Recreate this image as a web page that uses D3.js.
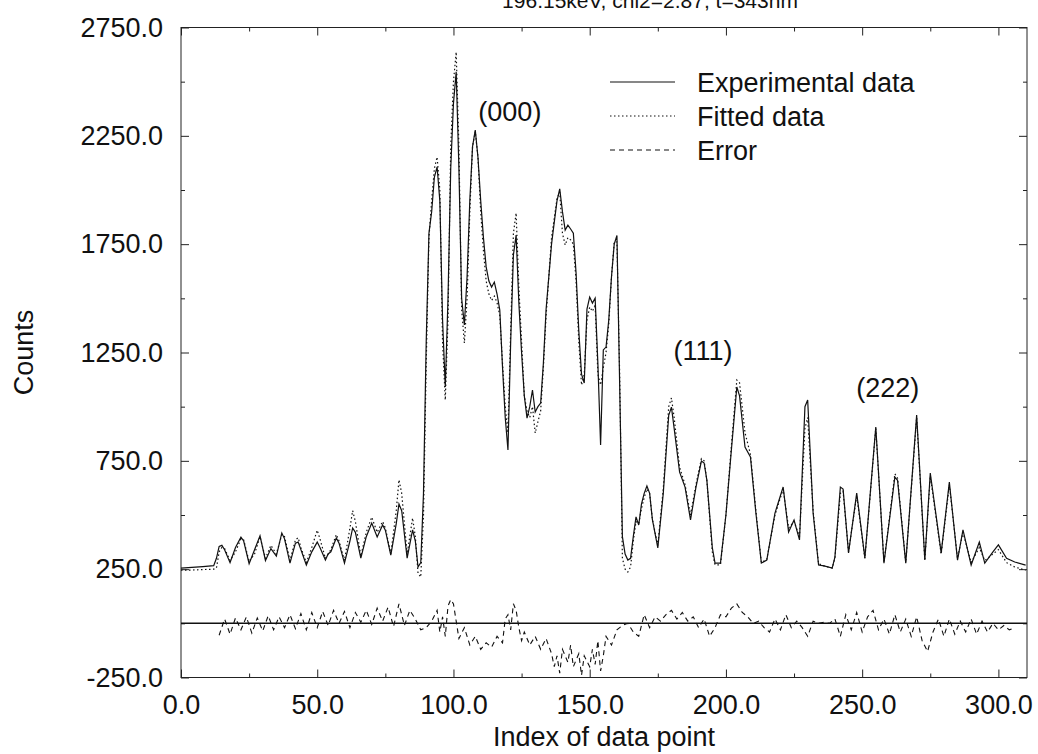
<!DOCTYPE html>
<html>
<head>
<meta charset="utf-8">
<script src="https://cdn.jsdelivr.net/npm/d3@7"></script>
<style>
  body { margin: 0; background: #fff; }
  text { font-family: "Liberation Sans", Arial, Helvetica, sans-serif; fill: #111; }
</style>
</head>
<body>
<div id="chart"></div>
<script>
// data (index of data point -> counts)
const pointIndex = [0, 4, 8, 12, 13, 14, 15, 16, 18, 20, 22, 23, 25, 27, 29, 31, 33, 35, 37, 38, 40, 42, 43, 44, 46, 48, 50, 51, 53, 54, 55, 57, 58, 60, 62, 63, 64, 66, 68, 70, 72, 74, 75, 77, 79, 80, 81, 83, 85, 86, 87, 88,
    89, 90, 91, 92, 93, 94, 95, 96, 97, 98, 99, 100, 101, 102, 103, 104, 105, 106, 107, 108, 109, 110, 111, 112, 113, 114, 115, 116, 117, 118, 119, 120, 121, 122, 123, 124, 125, 126, 127, 128, 129, 130,
    131, 132, 133, 134, 135, 136, 137, 138, 139, 140, 141, 142, 143, 144, 145, 146, 147, 148, 149, 150, 151, 152, 153, 154, 155, 156, 157, 158, 159, 160, 161, 162, 163, 164, 165, 166, 167, 168, 169, 170,
    171, 172, 173, 175, 177, 179, 180, 181, 183, 185, 187, 189, 191, 192, 193, 195, 196, 198, 200, 202, 204, 205, 207, 209, 211, 213, 215, 218, 221, 223, 225, 227, 229, 230, 232, 234, 236, 239, 240, 242,
    243, 245, 248, 251, 255, 258, 262, 263, 266, 270, 273, 275, 279, 282, 285, 287, 290, 293, 295, 298, 300, 303, 306, 310]
const experimental = [255, 258, 262, 266, 300, 355, 360, 340, 280, 350, 398, 380, 275, 340, 404, 290, 345, 310, 417, 390, 278, 370, 375, 340, 269, 330, 375, 350, 292, 320, 330, 394, 370, 278, 380, 440, 420, 301, 400, 463, 399, 454, 430, 315, 460, 551, 520, 301, 431, 380, 260, 280,
    600, 1300, 1800, 1900, 2060, 2106, 1950, 1400, 1091, 1500, 2100, 2400, 2545, 2100, 1500, 1377, 1600, 1950, 2200, 2277, 2150, 1950, 1780, 1645, 1580, 1552, 1575, 1520, 1446, 1183, 950, 800, 1300, 1700, 1792, 1478, 1250, 1050, 947, 1000, 1077, 975,
    1000, 1017, 1200, 1450, 1600, 1750, 1852, 1950, 2005, 1900, 1815, 1838, 1820, 1801, 1617, 1350, 1150, 1109, 1450, 1506, 1478, 1501, 1200, 823, 1262, 1275, 1400, 1600, 1750, 1790, 1100, 400, 320, 292, 300, 400, 491, 454, 550, 600,
    634, 600, 480, 348, 600, 960, 998, 900, 698, 629, 477, 629, 749, 740, 661, 350, 278, 278, 500, 800, 1091, 1050, 814, 768, 509, 278, 292, 509, 629, 421, 477, 385, 1000, 1031, 509, 269, 265, 255, 306, 629,
    620, 325, 601, 302, 906, 278, 675, 660, 278, 961, 292, 694, 325, 652, 292, 431, 269, 375, 278, 330, 362, 300, 283, 269]
const fitted = [245, 246, 248, 250, 255, 330, 350, 345, 290, 330, 390, 385, 285, 320, 400, 300, 360, 320, 410, 400, 290, 385, 395, 350, 280, 350, 430, 390, 300, 320, 340, 410, 380, 290, 440, 520, 470, 310, 420, 490, 420, 470, 440, 320, 520, 662, 600, 320, 486, 400, 230, 214,
    500, 1200, 1780, 1950, 2100, 2152, 2000, 1300, 1031, 1400, 2200, 2500, 2637, 2200, 1450, 1294, 1500, 1900, 2200, 2270, 2150, 1900, 1720, 1580, 1520, 1490, 1510, 1480, 1420, 1200, 1000, 880, 1350, 1800, 1894, 1550, 1300, 1050, 980, 950, 1000, 878,
    930, 980, 1180, 1420, 1600, 1780, 1870, 1960, 1990, 1800, 1746, 1780, 1770, 1750, 1580, 1300, 1100, 1150, 1400, 1460, 1440, 1470, 1150, 1100, 1180, 1250, 1380, 1600, 1760, 1760, 1150, 300, 250, 237, 260, 380, 470, 460, 530, 580,
    620, 600, 480, 360, 620, 1000, 1040, 950, 720, 640, 500, 640, 760, 750, 660, 330, 270, 270, 500, 820, 1123, 1110, 880, 780, 520, 280, 295, 500, 620, 440, 470, 400, 900, 950, 520, 275, 265, 255, 300, 600,
    610, 330, 590, 300, 900, 280, 690, 670, 280, 950, 290, 680, 320, 640, 300, 420, 280, 350, 290, 320, 340, 280, 260, 245]
const errorIndex = [14, 16, 18, 20, 22, 24, 26, 28, 30, 32, 34, 36, 38, 40, 42, 44, 46, 48, 50, 52, 54, 56, 58, 60, 62, 64, 66, 68, 70, 72, 74, 76, 78, 80, 82, 84, 86, 88, 90, 92, 94, 95, 96, 97, 98, 99, 100,
    101, 102, 104, 106, 108, 110, 112, 114, 116, 118, 119, 120, 121, 122, 123, 124, 125, 126, 128, 130, 132, 134, 136, 137, 138, 139, 140, 142, 143, 144, 146, 147, 148, 150, 151, 152, 153, 154, 155, 156, 158,
    160, 162, 164, 166, 168, 170, 172, 174, 176, 178, 180, 182, 184, 186, 188, 190, 192, 194, 196, 198, 200, 202, 204, 206, 208, 210, 212, 214, 216, 218, 220, 222, 224, 226, 228, 230, 232, 234, 236, 238, 240,
    242, 244, 246, 248, 250, 252, 254, 256, 258, 260, 262, 264, 266, 268, 270, 272, 274, 276, 278, 280, 282, 284, 286, 288, 290, 292, 294, 296, 298, 300, 302, 304, 306]
const errorValues = [-55, 20, -50, 25, -30, 30, -45, 25, -35, 35, -30, 30, -20, 40, -25, 45, -30, 50, -20, 55, -10, 60, 0, 55, -20, 50, 5, 60, -5, 70, 10, 75, -15, 90, -10, 60, 20, -30, -20, 10, 60, -40, 30, -60, 80, 110, 90,
    10, -70, -20, -100, -60, -120, -90, -110, -60, -90, 20, 40, -30, 90, 60, -20, -80, -40, -100, -60, -120, -70, -140, -200, -150, -230, -120, -180, -100, -200, -140, -240, -150, -200, -120, -190, -80, -220, -150, -60, -100,
    -30, -10, 0, -40, -60, 40, -20, 30, 10, 40, 60, 20, 50, 10, 30, -20, 20, -60, -20, 40, 30, 70, 90, 50, 30, 0, 10, -20, -40, 20, -30, 40, -20, 10, -20, -60, 10, 0, 5, 0, 20,
    -60, 40, -30, 50, -40, 30, 60, -30, 20, -50, 40, -40, 20, -60, 30, -80, -130, -40, 20, -60, 20, -50, 10, -40, 20, -50, 10, -40, 0, -30, -10, -30, -20]

const xMajorTicks = [0, 50, 100, 150, 200, 250, 300]
const xMinorTicks = [25, 75, 125, 175, 225, 275]
const yMajorTicks = [-250, 250, 750, 1250, 1750, 2250, 2750]
const yMinorTicks = [0, 500, 1000, 1500, 2000, 2500]
const legendLabels = ["Experimental data", "Fitted data", "Error"]
const peakLabels = ["(000)", "(111)", "(222)"]
const peakLabelIndex = [120.7, 191.6, 259.4]
const peakLabelCounts = [2365, 1261, 1091]
const titleText = "196.15keV, chi2=2.87, t=343nm"

function drawChart() {
    const WIDTH = 1038
    const HEIGHT = 754
    const FONT = 27

    const svg = d3.select("#chart")
        .append("svg")
        .attr("width", WIDTH)
        .attr("height", HEIGHT)

    // plot frame edges
    const x = d3.scaleLinear().domain([0, 310.5]).range([181, 1027])
    const y = d3.scaleLinear().domain([-250, 2750]).range([677.5, 27.5])

    const [x0, x1] = x.range()
    const [y0, y1] = y.range()

    // plain hyphen for negatives, like the original plot
    const fmt = d => d.toFixed(1)

    // title, mostly cut off at the top edge like the scan
    svg.append("text")
        .attr("x", 650)
        .attr("y", 8)
        .attr("text-anchor", "middle")
        .style("font-size", "21px")
        .text(titleText)

    // axes: ticks point inward on all four sides
    function styleAxis(g) {
        g.select(".domain").remove()
        g.selectAll("line").attr("stroke", "#222").attr("stroke-width", 1)
        g.selectAll("text").style("font-size", FONT + "px").attr("fill", "#111")
    }

    svg.append("g")
        .attr("transform", `translate(0,${y0})`)
        .call(d3.axisBottom(x).tickValues(xMajorTicks).tickSize(-8).tickPadding(17).tickFormat(fmt))
        .call(styleAxis)
    svg.append("g")
        .attr("transform", `translate(0,${y0})`)
        .call(d3.axisBottom(x).tickValues(xMinorTicks).tickSize(-4).tickFormat(""))
        .call(styleAxis)
    svg.append("g")
        .attr("transform", `translate(0,${y1})`)
        .call(d3.axisTop(x).tickValues(xMajorTicks).tickSize(-8).tickFormat(""))
        .call(styleAxis)
    svg.append("g")
        .attr("transform", `translate(0,${y1})`)
        .call(d3.axisTop(x).tickValues(xMinorTicks).tickSize(-4).tickFormat(""))
        .call(styleAxis)

    svg.append("g")
        .attr("transform", `translate(${x0},0)`)
        .call(d3.axisLeft(y).tickValues(yMajorTicks).tickSize(-8).tickPadding(18).tickFormat(fmt))
        .call(styleAxis)
    svg.append("g")
        .attr("transform", `translate(${x0},0)`)
        .call(d3.axisLeft(y).tickValues(yMinorTicks).tickSize(-4).tickFormat(""))
        .call(styleAxis)
    svg.append("g")
        .attr("transform", `translate(${x1},0)`)
        .call(d3.axisRight(y).tickValues(yMajorTicks).tickSize(-8).tickFormat(""))
        .call(styleAxis)
    svg.append("g")
        .attr("transform", `translate(${x1},0)`)
        .call(d3.axisRight(y).tickValues(yMinorTicks).tickSize(-4).tickFormat(""))
        .call(styleAxis)

    // frame
    svg.append("rect")
        .attr("x", x0)
        .attr("y", y1)
        .attr("width", x1 - x0)
        .attr("height", y0 - y1)
        .style("fill", "none")
        .style("stroke", "#222")
        .style("stroke-width", 1)

    // axis titles
    svg.append("text")
        .attr("x", (x0 + x1) / 2)
        .attr("y", 746)
        .attr("text-anchor", "middle")
        .style("font-size", FONT + "px")
        .text("Index of data point")
    svg.append("text")
        .attr("transform", `translate(33,${(y0 + y1) / 2}) rotate(-90)`)
        .attr("text-anchor", "middle")
        .style("font-size", FONT + "px")
        .text("Counts")

    // zero line for the error trace
    svg.append("line")
        .attr("x1", x0).attr("x2", x1)
        .attr("y1", y(0)).attr("y2", y(0))
        .style("stroke", "#111")
        .style("stroke-width", 1.5)

    const line = d3.line()
        .x(d => x(d[0]))
        .y(d => y(d[1]))

    const expPoints = pointIndex.map((d, i) => [d, experimental[i]])
    const fitPoints = pointIndex.map((d, i) => [d, fitted[i]])
    const errPoints = errorIndex.map((d, i) => [d, errorValues[i]])

    const styles = [
        { dash: null, width: 1.2 },
        { dash: "1.5,2.5", width: 1.2 },
        { dash: "5,4", width: 1.1 }
    ]

    svg.append("path")
        .attr("d", line(fitPoints))
        .style("fill", "none")
        .style("stroke", "#111")
        .style("stroke-width", styles[1].width)
        .style("stroke-dasharray", styles[1].dash)
    svg.append("path")
        .attr("d", line(expPoints))
        .style("fill", "none")
        .style("stroke", "#111")
        .style("stroke-width", styles[0].width)
    svg.append("path")
        .attr("d", line(errPoints))
        .style("fill", "none")
        .style("stroke", "#111")
        .style("stroke-width", styles[2].width)
        .style("stroke-dasharray", styles[2].dash)

    // peak annotations
    svg.selectAll(".peak")
        .data(peakLabels)
        .enter()
        .append("text")
        .attr("class", "peak")
        .attr("x", (d, i) => x(peakLabelIndex[i]))
        .attr("y", (d, i) => y(peakLabelCounts[i]))
        .attr("dy", "0.36em")
        .attr("text-anchor", "middle")
        .style("font-size", FONT + "px")
        .text(d => d)

    // legend
    const legend = svg.append("g")
        .selectAll("g")
        .data(legendLabels)
        .enter()
        .append("g")
        .attr("transform", (d, i) => `translate(610,${82 + i * 34})`)
    legend.append("line")
        .attr("x1", 0).attr("x2", 65)
        .style("stroke", "#111")
        .style("stroke-width", (d, i) => styles[i].width)
        .style("stroke-dasharray", (d, i) => styles[i].dash)
    legend.append("text")
        .attr("x", 87)
        .attr("y", 10)
        .style("font-size", FONT + "px")
        .text(d => d)
}

drawChart()
</script>
</body>
</html>
